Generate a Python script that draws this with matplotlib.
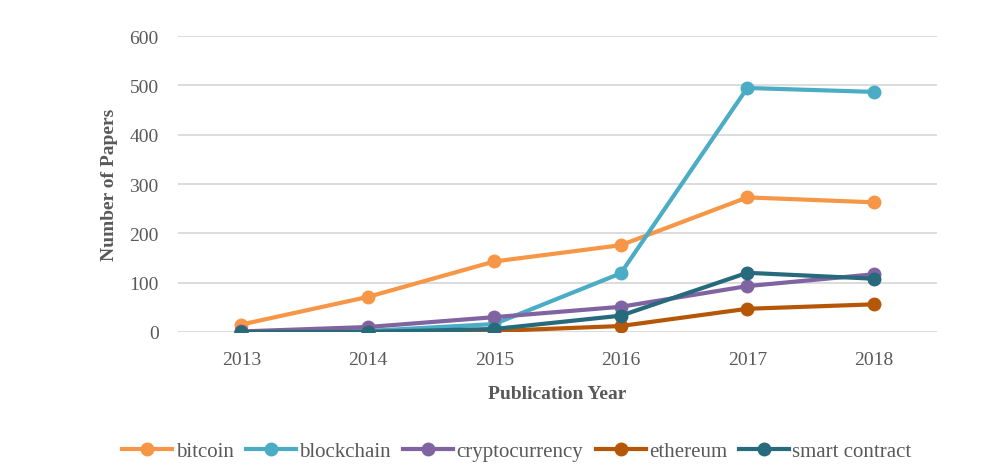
import numpy as np
import matplotlib.pyplot as plt

years = ['2013', '2014', '2015', '2016', '2017', '2018']
bitcoin = [15, 71, 143, 176, 273, 263]
blockchain = [0, 2, 16, 119, 495, 487]
cryptocurrency = [1, 10, 30, 51, 93, 117]
ethereum = [0, 0, 2, 12, 47, 56]
smart_contract = [0, 0, 6, 33, 120, 108]

series = [
    ('bitcoin', bitcoin, '#F79646'),
    ('blockchain', blockchain, '#4BACC6'),
    ('cryptocurrency', cryptocurrency, '#8064A2'),
    ('ethereum', ethereum, '#B65708'),
    ('smart contract', smart_contract, '#276A7C'),
]

plt.rcParams['font.family'] = ['Liberation Serif', 'DejaVu Serif']
text_color = '#595959'

fig = plt.figure(figsize=(10.04, 4.77), dpi=100)
ax = fig.add_axes([0.1773, 0.302, 0.756, 0.62])

x = np.arange(len(years))
for name, vals, color in series:
    ax.plot(x, vals, color=color, lw=3, marker='o', markersize=9, label=name)

ax.set_xlim(-0.5, len(years) - 0.5)
ax.set_ylim(0, 600)
ax.set_yticks(range(0, 601, 100))
ax.set_xticks(x)
ax.set_xticklabels(years)
ax.grid(axis='y', color='#D9D9D9', lw=1.3)
ax.set_axisbelow(True)
for s in ax.spines.values():
    s.set_visible(False)
ax.tick_params(axis='y', length=0, labelsize=14, colors=text_color, pad=14)
ax.tick_params(axis='x', length=0, labelsize=14, colors=text_color, pad=14)
ax.set_xlabel('Publication Year', fontsize=14, fontweight='bold', color=text_color, labelpad=12)
ax.set_ylabel('Number of Papers', fontsize=14, fontweight='bold', color=text_color, labelpad=8)

leg = fig.legend(loc='center', bbox_to_anchor=(0.515, 0.052), ncol=5, frameon=False,
                 fontsize=15, handlelength=2.4, handletextpad=0.15, columnspacing=0.6,
                 labelcolor=text_color)

plt.savefig('out.png', dpi=100)
